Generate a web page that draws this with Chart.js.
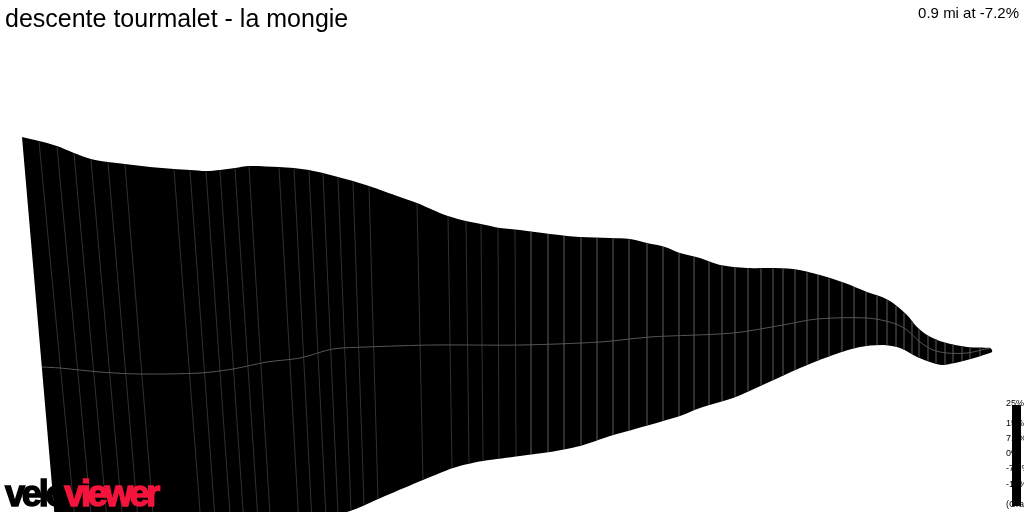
<!DOCTYPE html>
<html>
<head>
<meta charset="utf-8">
<script src="https://cdn.jsdelivr.net/npm/chart.js@4.4.1/dist/chart.umd.min.js"></script>
<style>
  body { margin: 0; background: #fff; }
  #wrap { position: relative; width: 1024px; height: 512px; overflow: hidden; font-family: "Liberation Sans", Arial, sans-serif; }
  #wrap canvas { position: absolute; left: 0; top: 0; }
  .title { position: absolute; left: 5px; top: 6px; font-size: 25px; line-height: 1; color: #000; }
  .info { position: absolute; right: 5px; top: 5px; font-size: 15px; line-height: 1; color: #000; }
  .logo { position: absolute; left: 5px; top: 476px; font-size: 36px; font-weight: bold; letter-spacing: -3.2px; line-height: 1; -webkit-text-stroke: 1.4px currentColor; }
  .logo .velo { color: #000; }
  .logo .viewer { color: #f5143c; }
  .grad-lbl { position: absolute; left: 1006px; font-size: 9px; line-height: 1; color: #000; white-space: nowrap; }
  .grad-bar { position: absolute; left: 1012px; top: 405px; width: 9px; height: 101px; background: #000; }
</style>
</head>
<body>
<div id="wrap">
  <canvas id="profile"></canvas>
  <div class="title">descente tourmalet - la mongie</div>
  <div class="info">0.9 mi at -7.2%</div>
  <div id="grad"></div>
  <div class="logo"><span class="velo">velo</span><span class="viewer">viewer</span></div>
</div>
<script>
// ribbon outline as seen on the picture (x = along the climb, y = screen height units)
const topX = [22, 39, 57, 74, 91, 108, 125, 150, 174, 190, 206, 220, 235, 249, 279, 294, 309, 323, 338, 353, 369, 400, 417, 433, 448, 466, 481, 500, 520, 550, 580, 610, 630, 647, 665, 680, 700, 720, 747, 770, 793, 820, 845, 867, 882, 893, 907, 917, 927, 943, 967, 990, 992];
const topY = [137, 141, 146, 153, 159, 162, 164, 167, 169, 170, 171, 170, 168, 166, 167, 168, 170, 173, 177, 181, 186, 197, 203, 210, 216, 221, 224, 228, 230, 234, 237, 238, 239, 243, 247, 253, 258, 265, 268, 268, 269, 275, 283, 292, 297, 303, 315, 327, 335, 342, 347, 348, 350];

const botX = [61, 200, 347, 385, 423, 440, 453, 468, 483, 520, 550, 580, 610, 635, 660, 680, 700, 733, 767, 800, 833, 860, 883, 900, 917, 933, 943, 967, 990, 992];
const botY = [590, 552, 512, 496, 480, 473, 468, 464, 461, 456, 452, 446, 436, 429, 422, 416, 408, 398, 383, 368, 355, 347, 345, 348, 357, 363, 365, 360, 353, 352];

const midX = [42, 60, 100, 140, 200, 233, 267, 300, 333, 367, 433, 520, 600, 650, 733, 783, 817, 867, 893, 907, 920, 933, 947, 967, 990];
const midY = [367, 368, 372, 374, 373, 369, 362, 358, 349, 347, 345, 345, 342, 337, 333, 325, 319, 318, 323, 330, 342, 350, 353, 353, 348];

// segment seams: where each seam meets the top edge and where it meets the bottom edge
const seamTop = [39, 57, 74, 91, 108, 125, 174, 190, 206, 220, 235, 249, 279, 294, 309, 323, 338, 353, 369, 417, 448, 466, 481, 498, 515, 531, 548, 564, 581, 597, 613, 629, 647, 663, 679, 694, 709, 722, 735, 748, 761, 773, 783, 795, 807, 818, 829, 842, 854, 866, 877, 887, 896, 904, 912, 919, 928, 936, 945, 953, 962, 970, 980];
const seamBot = [81, 97, 112, 127, 142, 157, 203, 217, 232, 245, 259, 271, 299, 312, 326, 338, 351, 364, 378, 423, 452, 469, 483, 499, 516, 531, 548, 564, 581, 597, 613, 629, 647, 663, 679, 694, 709, 722, 735, 748, 761, 773, 783, 795, 807, 818, 829, 842, 854, 866, 877, 887, 896, 904, 912, 919, 928, 936, 945, 953, 962, 970, 980];

// gradient key
const gradTicks = ['25%', '15%', '7.5%', '0%', '-7.5%', '-15%', '(Gradient)'];
const gradTickTop = [399, 419, 434, 449, 464, 480, 500];

function edgeAt(xs, ys, x) {
  for (let i = 1; i < xs.length; i++) {
    if (x <= xs[i]) {
      const t = (x - xs[i - 1]) / (xs[i] - xs[i - 1]);
      return ys[i - 1] + t * (ys[i] - ys[i - 1]);
    }
  }
  return ys[ys.length - 1];
}

const ribbon = topX.map((x, i) => ({ x, y: topY[i] }));
for (let i = botX.length - 1; i >= 0; i--) ribbon.push({ x: botX[i], y: botY[i] });

const seams = [];
seamTop.forEach((x, i) => {
  seams.push({ x, y: edgeAt(topX, topY, x) + 0.5 });
  seams.push({ x: seamBot[i], y: edgeAt(botX, botY, seamBot[i]) - 0.5 });
  seams.push({ x, y: null });
});

const mid = midX.map((x, i) => ({ x, y: midY[i] }));

document.getElementById('grad').innerHTML =
  gradTicks.map((t, i) => `<div class="grad-lbl" style="top:${gradTickTop[i]}px">${t}</div>`).join('') +
  '<div class="grad-bar"></div>';

new Chart(document.getElementById('profile'), {
  type: 'line',
  data: {
    datasets: [
      { data: mid, borderColor: '#555', borderWidth: 1, pointRadius: 0, tension: 0.3, fill: false, order: 1 },
      { data: seams, borderColor: '#3e3e3e', borderWidth: 0.8, pointRadius: 0, tension: 0, fill: false, spanGaps: false, order: 2 },
      { data: ribbon, borderWidth: 0, backgroundColor: '#000', pointRadius: 0, tension: 0.3, fill: 'shape', order: 3 }
    ]
  },
  options: {
    responsive: true, maintainAspectRatio: false, animation: false, devicePixelRatio: 1,
    layout: { padding: 0 },
    plugins: { legend: { display: false }, tooltip: { enabled: false }, title: { display: false } },
    scales: {
      x: { type: 'linear', min: 0, max: 1024, display: false },
      y: { type: 'linear', min: 0, max: 512, reverse: true, display: false }
    }
  }
});
</script>
</body>
</html>
